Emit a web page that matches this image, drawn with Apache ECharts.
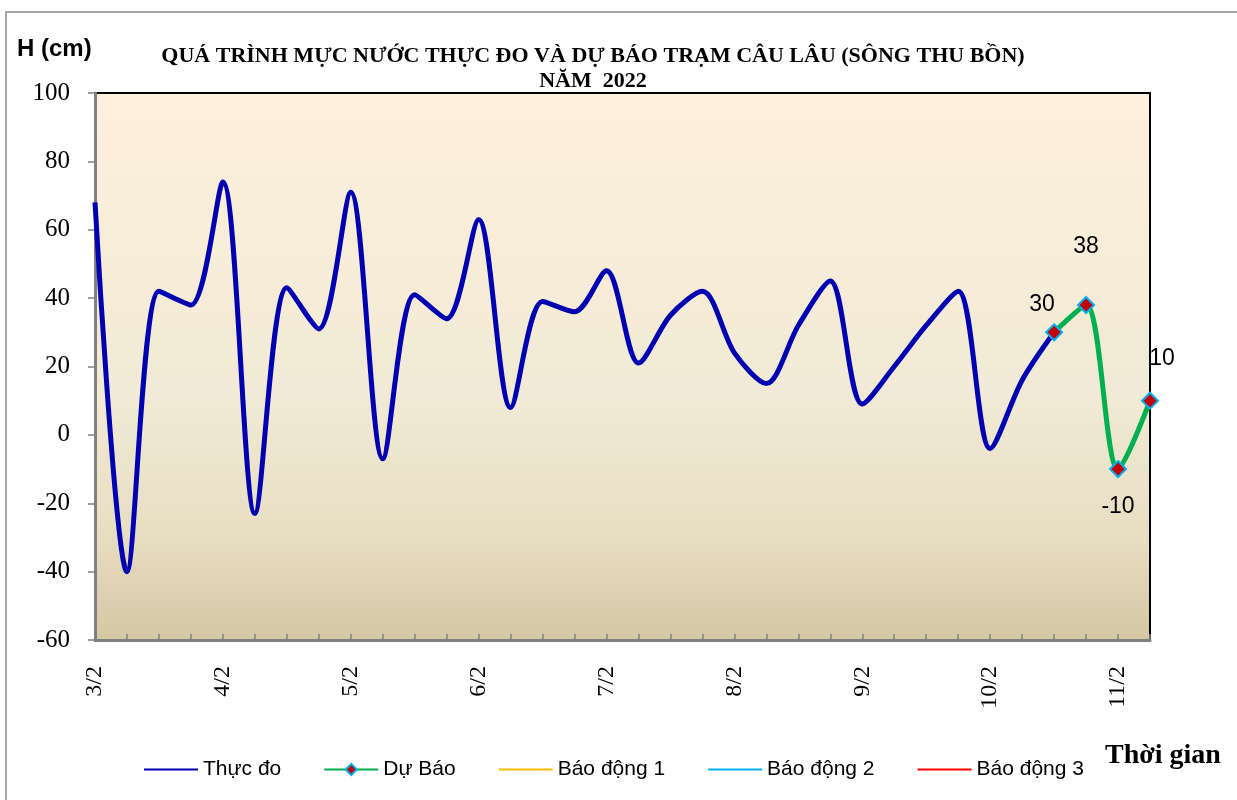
<!DOCTYPE html>
<html>
<head>
<meta charset="utf-8">
<title>Mực nước Câu Lâu</title>
<script src="https://cdn.jsdelivr.net/npm/echarts@6/dist/echarts.min.js"></script>
<style>
  html, body { margin: 0; padding: 0; background: #fff; }
  #chart { width: 1237px; height: 800px; }
</style>
</head>
<body>
<div id="chart"></div>
<script>
// ngày và các obs trong ngày (4 lần / ngày)
var days = ['3/2', '4/2', '5/2', '6/2', '7/2', '8/2', '9/2', '10/2', '11/2']
var hours = ['1h', '7h', '13h', '19h']
var pointCount = 34

// mực nước thực đo (cm)
var observed = [68, -40, 42, 38, 74, -23, 43, 31, 71, -7, 41, 34, 63, 8, 39, 36,
  48, 21, 35, 42, 24, 15, 32, 45, 9, 20, 32, 42, -4, 16, 30]
// dự báo, bắt đầu từ điểm thực đo cuối
var forecastStart = 30
var forecast = [30, 38, -10, 10]

var legendNames = ['Thực đo', 'Dự Báo', 'Báo động 1', 'Báo động 2', 'Báo động 3']
var yTicks = { min: -60, max: 100, step: 20 }

var categories = []
days.forEach(function (d) {
  hours.forEach(function (h) {
    categories.push(d + ' ' + h)
  })
})
categories = categories.slice(0, pointCount)

var forecastData = categories.map(function (c, i) {
  var k = i - forecastStart
  return k >= 0 && k < forecast.length ? forecast[k] : null
})

// vị trí nhãn cho từng điểm dự báo
var labelOffsets = [[-12, -28], [0, -58], [0, 38], [12, -42]]
var forecastSeriesData = forecastData.map(function (v, i) {
  if (v === null) return null
  var k = i - forecastStart
  return {
    value: v,
    label: { show: true, position: 'inside', offset: labelOffsets[k] }
  }
})

// legend: chỉ hiện đường, trừ Dự Báo có marker
var legendData = legendNames.map(function (n) {
  if (n === 'Dự Báo') return { name: n }
  return { name: n, itemStyle: { opacity: 0 } }
})

var chartDom = document.getElementById('chart')
var myChart = echarts.init(chartDom)
var option

option = {
  animation: false,
  backgroundColor: '#fff',
  title: {
    text: 'QUÁ TRÌNH MỰC NƯỚC THỰC ĐO VÀ DỰ BÁO TRẠM CÂU LÂU (SÔNG THU BỒN)\nNĂM  2022',
    left: 588,
    top: 39,
    textAlign: 'center',
    textStyle: {
      fontFamily: 'Liberation Serif',
      fontWeight: 'bold',
      fontSize: 22,
      lineHeight: 25,
      color: '#000'
    }
  },
  graphic: [
    {
      type: 'rect',
      shape: { x: 6, y: 12, width: 1250, height: 820 },
      style: { fill: 'none', stroke: '#a6a6a6', lineWidth: 2 },
      silent: true
    },
    {
      type: 'text',
      left: 17,
      top: 37,
      style: {
        text: 'H (cm)',
        font: 'bold 24px "Liberation Sans"',
        fill: '#000'
      }
    },
    {
      type: 'text',
      left: 1105,
      top: 742,
      style: {
        text: 'Thời gian',
        font: 'bold 28px "Liberation Serif"',
        fill: '#000'
      }
    }
  ],
  legend: {
    data: legendData,
    left: 138,
    top: 754,
    itemWidth: 54,
    itemHeight: 14,
    itemGap: 42,
    lineStyle: { width: 2 },
    textStyle: {
      fontFamily: 'Liberation Sans',
      fontSize: 21,
      color: '#000'
    }
  },
  grid: {
    left: 95,
    right: 87,
    top: 93,
    bottom: 160,
    show: true,
    borderColor: '#000',
    borderWidth: 2,
    backgroundColor: {
      type: 'linear',
      x: 0, y: 0, x2: 0, y2: 1,
      colorStops: [
        { offset: 0, color: '#fdf0dc' },
        { offset: 0.55, color: '#f2ead6' },
        { offset: 0.8, color: '#e8dec3' },
        { offset: 1, color: '#d5c7a4' }
      ]
    }
  },
  xAxis: {
    type: 'category',
    boundaryGap: false,
    data: categories,
    axisLine: { onZero: false, lineStyle: { color: '#808080', width: 3 } },
    axisTick: {
      show: true,
      inside: true,
      interval: 0,
      length: 6,
      lineStyle: { color: '#808080', width: 1.5 }
    },
    axisLabel: {
      interval: 3,
      rotate: 90,
      margin: 26,
      fontFamily: 'Liberation Serif',
      fontSize: 24,
      color: '#000',
      formatter: function (val) {
        return val.split(' ')[0]
      }
    },
    splitLine: { show: false }
  },
  yAxis: {
    type: 'value',
    min: yTicks.min,
    max: yTicks.max,
    interval: yTicks.step,
    axisLine: { show: true, lineStyle: { color: '#808080', width: 3 } },
    axisTick: { show: true, length: 7, lineStyle: { color: '#808080', width: 1.5 } },
    axisLabel: {
      margin: 25,
      fontFamily: 'Liberation Serif',
      fontSize: 25,
      color: '#000'
    },
    splitLine: { show: false }
  },
  series: [
    {
      name: 'Thực đo',
      type: 'line',
      data: observed,
      smooth: 0.3,
      symbol: 'none',
      lineStyle: { color: '#0000b0', width: 5 },
      itemStyle: { color: '#0000b0' },
      z: 3
    },
    {
      name: 'Dự Báo',
      type: 'line',
      data: forecastSeriesData,
      smooth: 0.3,
      symbol: 'diamond',
      symbolSize: 16,
      showAllSymbol: true,
      lineStyle: { color: '#00b050', width: 5 },
      itemStyle: { color: '#c00000', borderColor: '#00b0f0', borderWidth: 2 },
      label: {
        fontFamily: 'Liberation Sans',
        fontSize: 23,
        color: '#000'
      },
      z: 4
    },
    {
      name: 'Báo động 1',
      type: 'line',
      data: [],
      symbol: 'none',
      lineStyle: { color: '#ffc000', width: 2 },
      itemStyle: { color: '#ffc000' }
    },
    {
      name: 'Báo động 2',
      type: 'line',
      data: [],
      symbol: 'none',
      lineStyle: { color: '#00b0f0', width: 2 },
      itemStyle: { color: '#00b0f0' }
    },
    {
      name: 'Báo động 3',
      type: 'line',
      data: [],
      symbol: 'none',
      lineStyle: { color: '#ff0000', width: 2 },
      itemStyle: { color: '#ff0000' }
    }
  ]
}

option && myChart.setOption(option)
</script>
</body>
</html>
